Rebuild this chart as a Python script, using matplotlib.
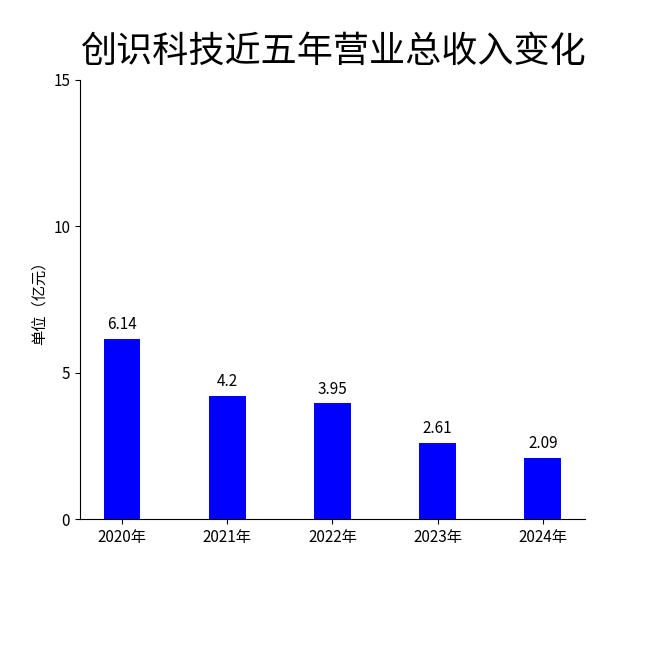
import matplotlib
matplotlib.use("Agg")
import matplotlib.pyplot as plt

plt.rcParams['font.family'] = ['Noto Sans CJK SC', 'DejaVu Sans']

years = ["2020年", "2021年", "2022年", "2023年", "2024年"]
revenue = [6.14, 4.2, 3.95, 2.61, 2.09]
labels = ["6.14", "4.2", "3.95", "2.61", "2.09"]

fig = plt.figure(figsize=(6.5, 6.5), dpi=100)
ax = fig.add_axes([0.123, 0.2015, 0.777, 0.6755])

bars = ax.bar(range(len(years)), revenue, width=0.35, color="#0000ff")
for b, t in zip(bars, labels):
    ax.text(b.get_x() + b.get_width() / 2, b.get_height() + 0.2, t,
            ha="center", va="bottom", fontsize=11)

ax.set_xticks(range(len(years)))
ax.set_xticklabels(years, fontsize=11)
ax.set_ylim(0, 15)
ax.set_yticks([0, 5, 10, 15])
ax.tick_params(axis="y", labelsize=11)
ax.set_xlim(-0.4, 4.4)
ax.set_ylabel("单位（亿元）", fontsize=11)
ax.spines["top"].set_visible(False)
ax.spines["right"].set_visible(False)

fig.text(0.512, 0.92, "创识科技近五年营业总收入变化", ha="center", va="center", fontsize=26)

fig.savefig("out.png", dpi=100)
